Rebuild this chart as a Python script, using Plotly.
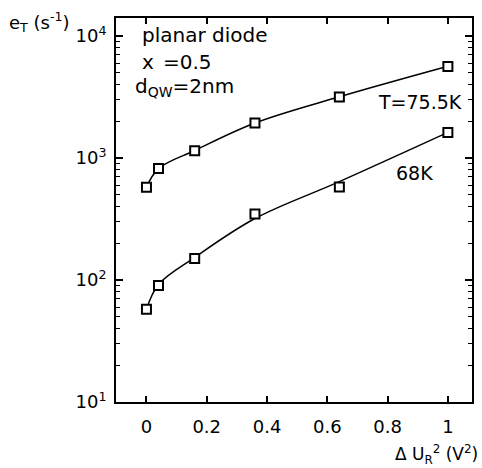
import plotly.graph_objects as go

# Squared reverse-voltage step (V^2)
du2 = [0.0, 0.04, 0.16, 0.36, 0.64, 1.0]

# Measured thermal emission rate e_T (1/s) at two temperatures
e_755K = [575, 818, 1147, 1933, 3155, 5610]
e_68K = [57.5, 90, 150, 348, 579, 1620]

# Fitted curves through the measurements, sampled at the same voltages
fit_755K = [575, 818, 1150, 1933, 3170, 5640]
fit_68K = [57.5, 92, 153, 319, 640, 1620]

y_tickvals = [10, 100, 1000, 10000]
y_ticktext = ["10<sup>1</sup>", "10<sup>2</sup>", "10<sup>3</sup>", "10<sup>4</sup>"]
x_tickvals = [0, 0.2, 0.4, 0.6, 0.8, 1.0]
x_ticktext = ["0", "0.2", "0.4", "0.6", "0.8", "1"]

FONT = "DejaVu Sans"
BLACK = "black"

# plot-area geometry in pixels, used to place free text
W, H = 482, 468
L, R, T, B = 116, 8, 18, 66
PW, PH = W - L - R, H - T - B

fig = go.Figure()

for fit in (fit_755K, fit_68K):
    fig.add_trace(go.Scatter(
        x=du2, y=fit, mode="lines",
        line=dict(color=BLACK, width=1.5, shape="spline", smoothing=1.0),
        showlegend=False, hoverinfo="skip",
    ))
for ys in (e_755K, e_68K):
    fig.add_trace(go.Scatter(
        x=du2, y=ys, mode="markers",
        marker=dict(symbol="square", size=9, color="white",
                    line=dict(color=BLACK, width=2)),
        showlegend=False,
    ))

minor_vals = [m * 10 ** d for d in (1, 2, 3) for m in range(2, 10)]

fig.update_xaxes(
    range=[-0.101, 1.080],
    tickvals=x_tickvals, ticktext=x_ticktext,
    ticks="inside", ticklen=6, tickwidth=1.5, tickcolor=BLACK,
    showline=True, linewidth=2, linecolor=BLACK, mirror="ticks",
    showgrid=False, zeroline=False,
    tickfont=dict(family=FONT, size=18, color=BLACK),
    ticklabelstandoff=7,
)
fig.update_yaxes(
    type="log", range=[1, 4.147],
    tickvals=y_tickvals, ticktext=y_ticktext,
    ticks="inside", ticklen=7, tickwidth=1.5, tickcolor=BLACK,
    minor=dict(tickvals=minor_vals, ticks="inside", ticklen=4,
               tickwidth=1.2, tickcolor=BLACK, showgrid=False),
    showline=True, linewidth=2, linecolor=BLACK, mirror="ticks",
    showgrid=False, zeroline=False,
    tickfont=dict(family=FONT, size=18, color=BLACK),
    ticklabelstandoff=4,
)


def note(text, px, py, xanchor="left", size=19):
    """Place text with its anchor at pixel (px, py) of the page."""
    fig.add_annotation(
        text=text, x=(px - L) / PW, y=(H - B - py) / PH,
        xref="paper", yref="paper",
        xanchor=xanchor, yanchor="middle", showarrow=False,
        borderpad=0,
        font=dict(family=FONT, size=size, color=BLACK),
    )


note("planar diode", 141, 35, size=20)
note("x", 141, 62, size=20)
note("=0.5", 162, 62, size=20)
note("d<sub>QW</sub>=2nm", 134, 87, size=20)
note("T=75.5K", 378, 102)
note("68K", 397, 173)
note("e<sub>T</sub> (s<sup>-1</sup>)", 7, 22, size=18)
note("\u0394 U<sub>R</sub><sup>2</sup> (V<sup>2</sup>)", 481, 454,
     xanchor="right", size=17)

fig.update_layout(
    width=W, height=H,
    margin=dict(l=L, r=R, t=T, b=B),
    paper_bgcolor="white", plot_bgcolor="white",
    font=dict(family=FONT, color=BLACK),
)

fig.write_html("out.html")
